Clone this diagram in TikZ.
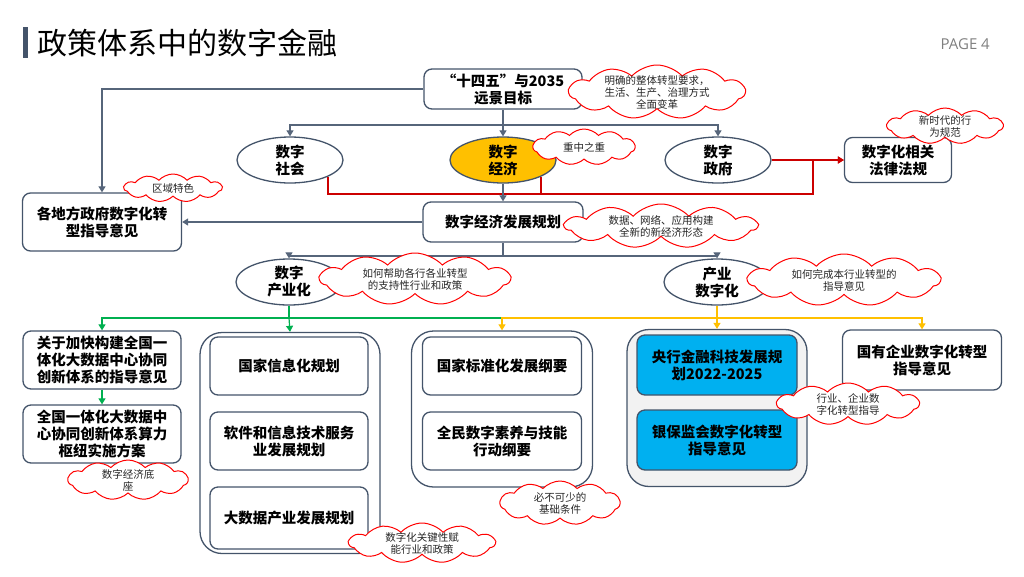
\documentclass[tikz,border=0pt]{standalone}
\usepackage{fontspec}
\setmainfont{Noto Sans CJK SC}
\newfontfamily\pagefont{Open Sans}
\usetikzlibrary{shapes.geometric, shapes.symbols, arrows.meta, positioning}
\definecolor{slate}{HTML}{44546A}
\definecolor{linkgray}{HTML}{56657A}
\definecolor{redline}{HTML}{CC0000}
\definecolor{grnline}{HTML}{00B050}
\definecolor{yelline}{HTML}{FFC000}
\definecolor{goldfill}{HTML}{FFC000}
\definecolor{bluefill}{HTML}{00B0F0}
\definecolor{panelbg}{HTML}{F2F2F2}
\definecolor{pagegray}{HTML}{7F7F7F}

\begin{document}
\begin{tikzpicture}[
        x=1pt, y=-1pt,
        policy/.style={
            rectangle,
            rounded corners=8pt,
            draw=slate,
            line width=1.3pt,
            fill=white,
            align=center,
            inner sep=2pt,
            font=\fontsize{14.5}{17}\selectfont\bfseries
        },
        area/.style={
            ellipse,
            draw=slate,
            line width=1.3pt,
            fill=white,
            align=center,
            inner sep=0pt,
            minimum width=106pt,
            minimum height=46pt,
            font=\fontsize{14.5}{17}\selectfont\bfseries
        },
        panel/.style={
            rectangle,
            rounded corners=22pt,
            draw=slate,
            line width=1.3pt
        },
        note/.style={
            cloud,
            cloud puffs=11,
            cloud puff arc=95,
            cloud ignores aspect,
            draw=red,
            fill=white,
            line width=1pt,
            align=center,
            inner sep=-4pt,
            text=black!85,
            font=\fontsize{10.5}{12}\selectfont
        },
        link/.style={draw=linkgray, line width=1.2pt},
        redlink/.style={draw=redline, line width=1.2pt},
        grnlink/.style={draw=grnline, line width=1.2pt},
        yellink/.style={draw=yelline, line width=1.2pt},
        tip/.style={-{Triangle[width=7pt,length=6pt]}}
    ]

    \useasboundingbox (0,0) rectangle (1024,576);

    % Title and page number
    \fill[slate] (23,27) rectangle (28,58);
    \node[anchor=west, inner sep=0pt, font=\fontsize{30}{30}\selectfont] (title) at (37,43) {政策体系中的数字金融};
    \node[anchor=east, inner sep=0pt, text=pagegray, font=\pagefont\fontsize{15}{15}\selectfont] (page) at (990,44) {PAGE 4};

    % Top goal and the three areas
    \node[policy, minimum width=158pt, minimum height=40pt] (goal) at (503,89) {“十四五”与2035\\远景目标};
    \node[area] (dsoc) at (290,160) {数字\\社会};
    \node[area, fill=goldfill] (deco) at (503,160) {数字\\经济};
    \node[area] (dgov) at (718,160) {数字\\政府};
    \node[policy, minimum width=107pt, minimum height=45pt] (law) at (898,160) {数字化相关\\法律法规};
    \node[policy, minimum width=159pt, minimum height=58pt] (local) at (102,222) {各地方政府数字化转\\型指导意见};
    \node[policy, minimum width=160pt, minimum height=40pt] (plan) at (503,222) {数字经济发展规划};

    % Second level
    \node[area] (ind) at (289,282) {数字\\产业化};
    \node[area] (dig) at (717,282) {产业\\数字化};

    % Left column
    \node[policy, minimum width=158pt, minimum height=58pt] (b1) at (102,360) {关于加快构建全国一\\体化大数据中心协同\\创新体系的指导意见};
    \node[policy, minimum width=158pt, minimum height=58pt] (b2) at (102,434) {全国一体化大数据中\\心协同创新体系算力\\枢纽实施方案};

    % Panel: industry plans
    \node[panel, minimum width=180pt, minimum height=221pt] (p2) at (290,443) {};
    \node[policy, minimum width=158pt, minimum height=58pt] (s1) at (289,366) {国家信息化规划};
    \node[policy, minimum width=158pt, minimum height=58pt] (s2) at (289,441) {软件和信息技术服务\\业发展规划};
    \node[policy, minimum width=158pt, minimum height=62pt] (s3) at (289,518) {大数据产业发展规划};

    % Panel: foundations
    \node[panel, minimum width=181pt, minimum height=156pt] (p3) at (502,409) {};
    \node[policy, minimum width=159pt, minimum height=58pt] (f1) at (502,366) {国家标准化发展纲要};
    \node[policy, minimum width=159pt, minimum height=58pt] (f2) at (502,441) {全民数字素养与技能\\行动纲要};

    % Panel: finance
    \node[panel, fill=panelbg, minimum width=180pt, minimum height=157pt] (p4) at (717,408) {};
    \node[policy, fill=bluefill, minimum width=160pt, minimum height=60pt] (k1) at (717,365) {央行金融科技发展规\\划2022-2025};
    \node[policy, fill=bluefill, minimum width=160pt, minimum height=60pt] (k2) at (717,440) {银保监会数字化转型\\指导意见};

    \node[policy, minimum width=159pt, minimum height=60pt] (soe) at (922,360) {国有企业数字化转型\\指导意见};

    % Connectors
    \coordinate (j1) at (503,125);
    \coordinate (j2) at (503,256);
    \coordinate (rj) at (813,194);
    \coordinate (gj) at (289,318);
    \coordinate (yj) at (717,318);
    \draw[link, tip] (goal.west) -| (local.north);
    \draw[link, tip] (goal.south) -- (j1) -| (dsoc.north);
    \draw[link, tip] (j1) -| (dgov.north);
    \draw[link, tip] (j1) -- (deco.north);
    \draw[redlink, tip] (dsoc.south east) |- (rj) |- (law.west);
    \draw[redlink] (deco.south east) -- (deco.south east |- rj);
    \draw[redlink, tip] (dgov.east) -- (law.west);
    \draw[link, tip] (deco.south) -- (plan.north);
    \draw[link, tip] (plan.west) -- (local.east);
    \draw[link, tip] (plan.south) -- (j2) -| (ind.north);
    \draw[link, tip] (j2) -| (dig.north);
    \draw[grnlink, tip] (ind.south) -- (gj) -| (b1.north);
    \draw[grnlink, tip] (gj) -- (p2.north);
    \draw[grnlink] (gj) -- (502,318);
    \draw[grnlink, tip] (b1.south) -- (b2.north);
    \draw[yellink, tip] (dig.south) -- (yj) -| (p3.north);
    \draw[yellink, tip] (yj) -- (p4.north);
    \draw[yellink, tip] (yj) -| (soe.north);

    % Notes
    \node[note, minimum width=176pt, minimum height=54pt] (n1) at (657,92) {明确的整体转型要求，\\生活、生产、治理方式\\全面变革};
    \node[note, minimum width=102pt, minimum height=36pt] (n2) at (584,147) {重中之重};
    \node[note, minimum width=116pt, minimum height=36pt] (n3) at (945,126) {新时代的行\\为规范};
    \node[note, minimum width=98pt, minimum height=28pt] (n4) at (173,188) {区域特色};
    \node[note, minimum width=192pt, minimum height=44pt] (n5) at (661,226) {数据、网络、应用构建\\全新的新经济形态};
    \node[note, minimum width=190pt, minimum height=52pt] (n6) at (415,279) {如何帮助各行各业转型\\的支持性行业和政策};
    \node[note, minimum width=192pt, minimum height=52pt] (n7) at (844,280) {如何完成本行业转型的\\指导意见};
    \node[note, minimum width=120pt, minimum height=40pt] (n8) at (128,480) {数字经济底\\座};
    \node[note, minimum width=146pt, minimum height=40pt] (n9) at (422,543) {数字化关键性赋\\能行业和政策};
    \node[note, minimum width=120pt, minimum height=44pt] (n10) at (560,503) {必不可少的\\基础条件};
    \node[note, minimum width=142pt, minimum height=42pt] (n11) at (848,404) {行业、企业数\\字化转型指导};

\end{tikzpicture}
\end{document}
